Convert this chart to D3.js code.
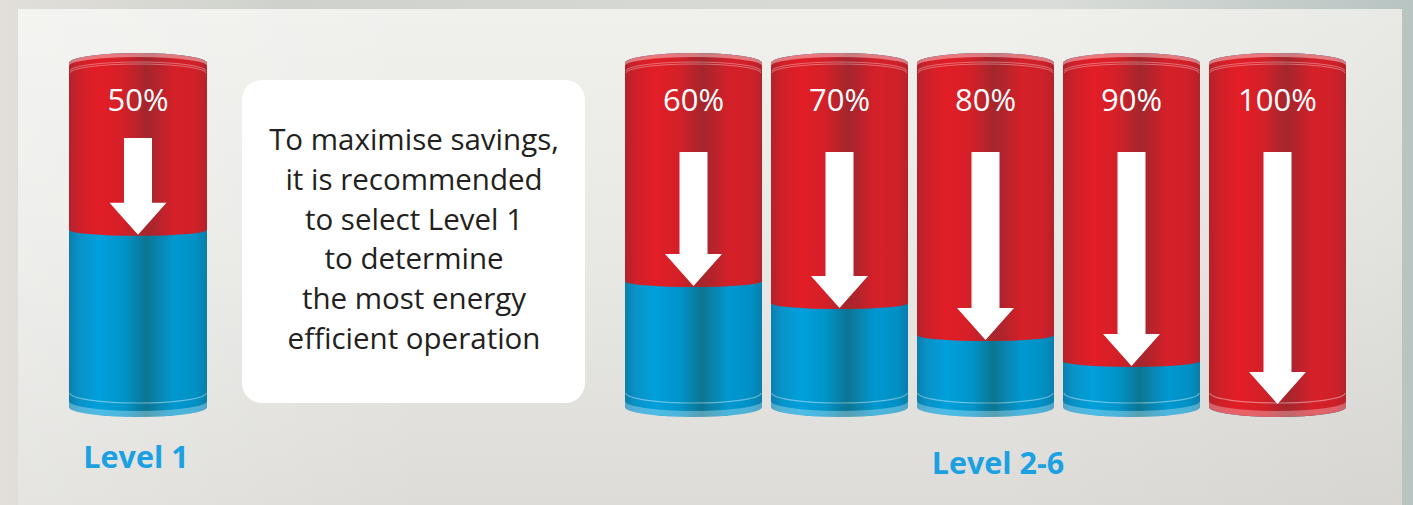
<!DOCTYPE html>
<html>
<head>
<meta charset="utf-8">
<script src="https://cdn.jsdelivr.net/npm/d3@7"></script>
<style>
  html, body { margin: 0; padding: 0; background: #dcdcd8; }
  svg { display: block; }
</style>
</head>
<body>
<svg id="chart" width="1413" height="505"></svg>
<script>
// ---------------- data ----------------
const percentLabels = ["50%", "60%", "70%", "80%", "90%", "100%"];
const percentValues = [50, 60, 70, 80, 90, 100];
// share (0-100) of each cylinder body that is red
const redDepth = [48.5, 63.4, 69.8, 79.1, 86.6, 100];
const groupOf = [0, 1, 1, 1, 1, 1];
const groupLabels = ["Level 1", "Level 2-6"];
const noteLines = [
  "To maximise savings,",
  "it is recommended",
  "to select Level 1",
  "to determine",
  "the most energy",
  "efficient operation"
];

// ---------------- setup ----------------
const W = 1413, H = 505;
const svg = d3.select("#chart");
const defs = svg.append("defs");

function linGrad(id, stops, horiz = true) {
  const g = defs.append("linearGradient").attr("id", id)
    .attr("x1", 0).attr("y1", 0).attr("x2", horiz ? 1 : 0).attr("y2", horiz ? 0 : 1);
  stops.forEach(([o, c, op]) => g.append("stop").attr("offset", o).attr("stop-color", c)
    .attr("stop-opacity", op == null ? 1 : op));
}
linGrad("outerBg", [[0, "#e2dfda"], [0.2, "#cfd2cc"], [0.5, "#d7d9d4"], [0.75, "#d9dcd8"], [1, "#b8c4c2"]]);
linGrad("panelBg", [[0, "#f0f0ed"], [0.45, "#e9e9e6"], [1, "#dddcd8"]], false);
linGrad("panelH", [[0, "#ffffff", 0.25], [0.3, "#ffffff", 0.0], [0.7, "#000000", 0.0], [1, "#000000", 0.03]]);
linGrad("red", [[0, "#b3222b"], [0.08, "#cf2029"], [0.22, "#e31d26"], [0.4, "#d32028"],
  [0.56, "#a5262d"], [0.63, "#b2242c"], [0.76, "#d52029"], [0.92, "#cf2029"], [1, "#b6222a"]]);
linGrad("blue", [[0, "#0b7fae"], [0.08, "#0993c8"], [0.22, "#00a0dc"], [0.4, "#0094c9"],
  [0.56, "#0b7592"], [0.63, "#0a82a8"], [0.76, "#0098d0"], [0.92, "#0090c4"], [1, "#0a7eab"]]);

// background
svg.append("rect").attr("width", W).attr("height", H).attr("fill", "url(#outerBg)");
svg.append("rect").attr("x", 18).attr("y", 9).attr("width", 1384).attr("height", H - 9).attr("fill", "url(#panelBg)");
svg.append("rect").attr("x", 18).attr("y", 9).attr("width", 1384).attr("height", H - 9).attr("fill", "url(#panelH)");

// ---------------- scales ----------------
const x1 = d3.scaleBand().domain([percentLabels[0]]).range([69, 207]).padding(0);
const x2 = d3.scaleBand().domain(percentLabels.slice(1)).range([625, 1346]).paddingInner(0.0616).paddingOuter(0);
const xLeft = (d, i) => groupOf[i] === 0 ? x1(d) : x2(d);
const bw = (i) => groupOf[i] === 0 ? x1.bandwidth() : x2.bandwidth();
const y = d3.scaleLinear().domain([0, 100]).range([63, 407]);

const ry = 10;   // ellipse radius of caps
const rb = 6;    // sag of the liquid boundary

function bodyPath(x0, x1p, yT, yB, rT, rBt) {
  const rx = (x1p - x0) / 2;
  return `M${x0},${yT} L${x0},${yB} A${rx},${rBt} 0 0 0 ${x1p},${yB} L${x1p},${yT} A${rx},${rT} 0 0 0 ${x0},${yT} Z`;
}
function lowerArc(x0, x1p, yy, r) {
  const rx = (x1p - x0) / 2;
  return `M${x0},${yy} A${rx},${r} 0 0 0 ${x1p},${yy}`;
}
function upperArc(x0, x1p, yy, r) {
  const rx = (x1p - x0) / 2;
  return `M${x0},${yy} A${rx},${r} 0 0 1 ${x1p},${yy}`;
}

const cyl = svg.selectAll("g.cyl").data(percentLabels).join("g").attr("class", "cyl");

cyl.each(function (d, i) {
  const g = d3.select(this);
  const x0 = xLeft(d, i), w = bw(i), xr = x0 + w, cx = x0 + w / 2;
  const yTop = y(0), yBot = y(100), yB = y(redDepth[i]);
  const full = redDepth[i] >= 100;

  // blue body
  g.append("path").attr("d", bodyPath(x0, xr, yTop, yBot, ry, ry)).attr("fill", "url(#blue)");
  // red part
  g.append("path").attr("d", full ? bodyPath(x0, xr, yTop, yBot, ry, ry) : bodyPath(x0, xr, yTop, yB, ry, rb))
    .attr("fill", "url(#red)");

  // top rim: light band
  g.append("path")
    .attr("d", `M${x0},${yTop} A${w / 2},${ry} 0 0 1 ${xr},${yTop} L${xr},${yTop + 3} A${w / 2},${ry - 1} 0 0 0 ${x0},${yTop + 3} Z`)
    .attr("fill", "#ffffff").attr("opacity", 0.4);
  // top thin lines
  [8, 10].forEach(o => g.append("path").attr("d", upperArc(x0 + 1, xr - 1, yTop + o, ry - 1))
    .attr("fill", "none").attr("stroke", "#ffffff").attr("stroke-opacity", 0.35).attr("stroke-width", 1));

  // bottom rim: thin light line + lighter band
  g.append("path").attr("d", lowerArc(x0 + 1, xr - 1, yBot - 14, ry))
    .attr("fill", "none").attr("stroke", "#ffffff").attr("stroke-opacity", 0.4).attr("stroke-width", 1.2);
  g.append("path")
    .attr("d", `M${x0},${yBot - 6} A${w / 2},${ry} 0 0 0 ${xr},${yBot - 6} L${xr},${yBot} A${w / 2},${ry} 0 0 1 ${x0},${yBot} Z`)
    .attr("fill", "#ffffff").attr("opacity", 0.3);

  // arrow
  const top = groupOf[i] === 0 ? 138 : 152;
  const tip = full ? yBot - 3 : yB + rb - 1;
  const headH = 32, headW = 57, shaftW = 28;
  const arrow = d3.path();
  arrow.moveTo(cx - shaftW / 2, top);
  arrow.lineTo(cx + shaftW / 2, top);
  arrow.lineTo(cx + shaftW / 2, tip - headH);
  arrow.lineTo(cx + headW / 2, tip - headH);
  arrow.lineTo(cx, tip);
  arrow.lineTo(cx - headW / 2, tip - headH);
  arrow.lineTo(cx - shaftW / 2, tip - headH);
  arrow.closePath();
  g.append("path").attr("d", arrow.toString()).attr("fill", "#ffffff");

  // percent label
  g.append("text").attr("x", cx).attr("y", 111).attr("text-anchor", "middle")
    .attr("font-family", "'Open Sans', 'Noto Sans', sans-serif").attr("font-size", 31)
    .attr("font-weight", 400)
    .attr("fill", "#ffffff").text(d);
});

// ---------------- note box ----------------
svg.append("rect").attr("x", 242).attr("y", 80).attr("width", 343).attr("height", 323)
  .attr("rx", 20).attr("fill", "#ffffff");
const note = svg.append("text").attr("text-anchor", "middle")
  .attr("font-family", "'Open Sans', 'Noto Sans', sans-serif").attr("font-size", 29.5).attr("fill", "#231f20");
note.selectAll("tspan").data(noteLines).join("tspan")
  .attr("x", 414).attr("y", (d, i) => 150 + i * 39.8).text(d => d);

// ---------------- group labels ----------------
const groupX = [136, 998];
svg.selectAll("text.grp").data(groupLabels).join("text").attr("class", "grp")
  .attr("x", (d, i) => groupX[i]).attr("y", (d, i) => i === 0 ? 468 : 474)
  .attr("text-anchor", "middle")
  .attr("font-family", "'Open Sans', 'Noto Sans', sans-serif").attr("font-weight", 700)
  .attr("font-size", 30.5).attr("fill", "#1ba1e2").text(d => d);
</script>
</body>
</html>
